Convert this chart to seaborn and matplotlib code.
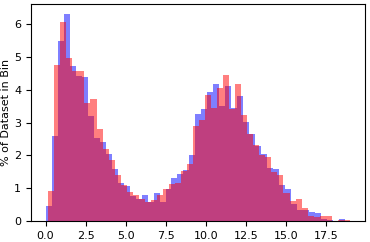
import matplotlib
matplotlib.use("Agg")
import matplotlib.pyplot as plt
import numpy as np
import pandas as pd
import seaborn as sns

# Two overlaid 50-bin histograms, heights in % of dataset
BLUE_RANGE = (0.04, 18.67)
RED_RANGE = (0.17, 19.0)
N_BINS = 50

blue_pct = [
    0.47, 2.58, 5.49, 6.31, 4.73, 4.43, 4.40, 3.20, 2.54, 2.42,
    2.05, 1.60, 1.17, 1.08, 0.75, 0.67, 0.79, 0.57, 0.86, 0.59,
    0.98, 1.32, 1.44, 1.56, 2.02, 3.27, 3.42, 3.94, 4.18, 3.51,
    4.12, 3.46, 3.82, 3.03, 2.66, 2.30, 2.05, 1.62, 1.59, 1.10,
    0.98, 0.53, 0.34, 0.34, 0.28, 0.25, 0.07, 0.04, 0.00, 0.07,
]
red_pct = [
    0.92, 4.76, 6.07, 4.97, 4.58, 4.58, 3.60, 3.73, 2.81, 2.19,
    1.87, 1.41, 1.10, 0.90, 0.79, 0.67, 0.57, 0.65, 0.80, 0.98,
    1.14, 1.17, 1.53, 1.75, 2.90, 3.09, 3.85, 3.46, 4.06, 4.46,
    3.42, 4.18, 3.24, 2.66, 2.32, 2.00, 1.96, 1.50, 1.41, 0.86,
    0.62, 0.68, 0.40, 0.16, 0.13, 0.16, 0.16, 0.00, 0.02, 0.04,
]


def _centers(lo, hi, n):
    edges = np.linspace(lo, hi, n + 1)
    return (edges[:-1] + edges[1:]) / 2


blue_df = pd.DataFrame({"x": _centers(*BLUE_RANGE, N_BINS), "pct": blue_pct})
red_df = pd.DataFrame({"x": _centers(*RED_RANGE, N_BINS), "pct": red_pct})

fig, ax = plt.subplots(figsize=(3.7, 2.42), dpi=100)
fig.subplots_adjust(left=31 / 370, right=365 / 370, bottom=21 / 242, top=238 / 242)

sns.histplot(data=blue_df, x="x", weights="pct", bins=N_BINS, binrange=BLUE_RANGE,
             color="blue", alpha=0.5, linewidth=0, ax=ax)
sns.histplot(data=red_df, x="x", weights="pct", bins=N_BINS, binrange=RED_RANGE,
             color="red", alpha=0.5, linewidth=0, ax=ax)

ax.set_xlabel("")
ax.set_ylabel("% of Dataset in Bin", fontsize=8, labelpad=2)
ax.tick_params(labelsize=8)

plt.savefig("out.png", dpi=100)
plt.close()
